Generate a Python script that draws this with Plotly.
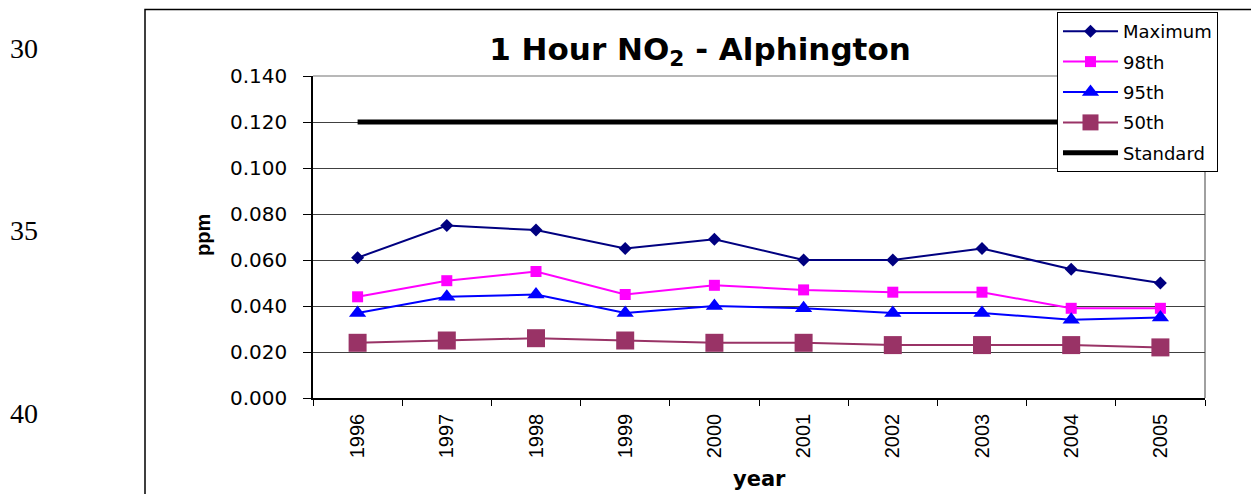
import plotly.graph_objects as go

# ---- data ----
years = ["1996", "1997", "1998", "1999", "2000", "2001", "2002", "2003", "2004", "2005"]
maximum = [0.061, 0.075, 0.073, 0.065, 0.069, 0.060, 0.060, 0.065, 0.056, 0.050]
p98 = [0.044, 0.051, 0.055, 0.045, 0.049, 0.047, 0.046, 0.046, 0.039, 0.039]
p95 = [0.037, 0.044, 0.045, 0.037, 0.040, 0.039, 0.037, 0.037, 0.034, 0.035]
p50 = [0.024, 0.025, 0.026, 0.025, 0.024, 0.024, 0.023, 0.023, 0.023, 0.022]
standard = [0.120, 0.120, 0.120, 0.120, 0.120, 0.120, 0.120, 0.120, 0.120, 0.120]
page_numbers = ["30", "35", "40"]

W, H = 1251, 494
L, R, T, B = 313, 1205, 76, 398  # plot area in pixels


def px(p):
    return (p - L) / (R - L)


def py(p):
    return (B - p) / (B - T)


sans = "Liberation Sans, Arial, sans-serif"
wide = "DejaVu Sans, sans-serif"

fig = go.Figure()
fig.add_trace(go.Scatter(x=years, y=maximum, name="Maximum", mode="lines+markers",
                         line=dict(color="#000080", width=2),
                         marker=dict(symbol="diamond", size=10, color="#000080"),
                         legendgroup="a"))
fig.add_trace(go.Scatter(x=years, y=p98, name="98th", mode="lines+markers",
                         line=dict(color="#FF00FF", width=2),
                         marker=dict(symbol="square", size=11, color="#FF00FF"),
                         legendgroup="b"))
fig.add_trace(go.Scatter(x=years, y=p95, name="95th", mode="lines+markers",
                         line=dict(color="#0000FF", width=2),
                         marker=dict(symbol="triangle-up", size=15, color="#0000FF"),
                         legendgroup="c"))
fig.add_trace(go.Scatter(x=years, y=p50, name="50th", mode="lines+markers",
                         line=dict(color="#993366", width=2),
                         marker=dict(symbol="square", size=18, color="#993366"),
                         legendgroup="d"))
fig.add_trace(go.Scatter(x=years, y=standard, name="Standard", mode="lines",
                         line=dict(color="#000000", width=5),
                         legendgroup="e"))

shapes = [
    # outer chart frame (extends past the right and bottom edges)
    dict(type="rect", xref="paper", yref="paper", x0=px(145), x1=px(1300),
         y0=py(520), y1=py(9.5), line=dict(color="#000000", width=1.5), layer="below"),
    # plot-area border (top and right, gray)
    dict(type="line", xref="paper", yref="paper", x0=0, x1=1, y0=1, y1=1,
         line=dict(color="#A0A0A0", width=1.5), layer="between"),
    dict(type="line", xref="paper", yref="paper", x0=1, x1=1, y0=0, y1=1,
         line=dict(color="#A0A0A0", width=2), layer="between"),
]

annotations = [
    dict(text="<b>ppm</b>", xref="paper", yref="paper", x=px(203), y=py(235), showarrow=False,
         textangle=-90, font=dict(family=sans, size=20, color="#000000"),
         xanchor="center", yanchor="middle"),
    dict(text="<b>year</b>", xref="paper", yref="paper", x=px(759), y=py(479), showarrow=False,
         font=dict(family=wide, size=21, color="#000000"),
         xanchor="center", yanchor="middle"),
]
for txt, yc in zip(page_numbers, [48, 230, 413]):
    annotations.append(dict(text=txt, xref="paper", yref="paper", x=px(24), y=py(yc),
                            showarrow=False, xanchor="center", yanchor="middle",
                            font=dict(family="Liberation Serif, Times New Roman, serif",
                                      size=28, color="#000000")))

fig.update_layout(
    width=W, height=H, autosize=False,
    margin=dict(l=L, r=W - R, t=T, b=H - B, pad=0),
    paper_bgcolor="#FFFFFF", plot_bgcolor="#FFFFFF",
    title=dict(text="<b>1 Hour NO<sub>2</sub> - Alphington</b>",
               xref="container", yref="container", x=700 / W, y=1 - 49 / H,
               xanchor="center", yanchor="middle",
               font=dict(family=wide, size=31, color="#000000")),
    showlegend=True,
    legend=dict(x=px(1057), y=py(12), xanchor="left", yanchor="top",
                bgcolor="#FFFFFF", bordercolor="#000000", borderwidth=1,
                font=dict(family=wide, size=18, color="#000000"),
                tracegroupgap=4, itemwidth=55, traceorder="grouped"),
    shapes=shapes,
    annotations=annotations,
)

fig.update_xaxes(type="category", range=[-0.5, 9.5], tickson="boundaries",
                 ticks="outside", ticklen=6,
                 tickcolor="#000000", tickwidth=1, tickangle=-90,
                 showline=True, linecolor="#000000", linewidth=1.5,
                 showgrid=False, zeroline=False,
                 tickfont=dict(family=sans, size=20, color="#000000"),
                 ticklabelstandoff=6)
fig.update_yaxes(range=[0, 0.14], dtick=0.02, tickformat=".3f",
                 ticks="outside", ticklen=8, tickcolor="#000000", tickwidth=1,
                 showline=True, linecolor="#000000", linewidth=1.5,
                 showgrid=True, gridcolor="#404040", gridwidth=1, zeroline=False,
                 tickfont=dict(family=wide, size=20, color="#000000"),
                 ticklabelstandoff=12)

fig.write_html("out.html")
